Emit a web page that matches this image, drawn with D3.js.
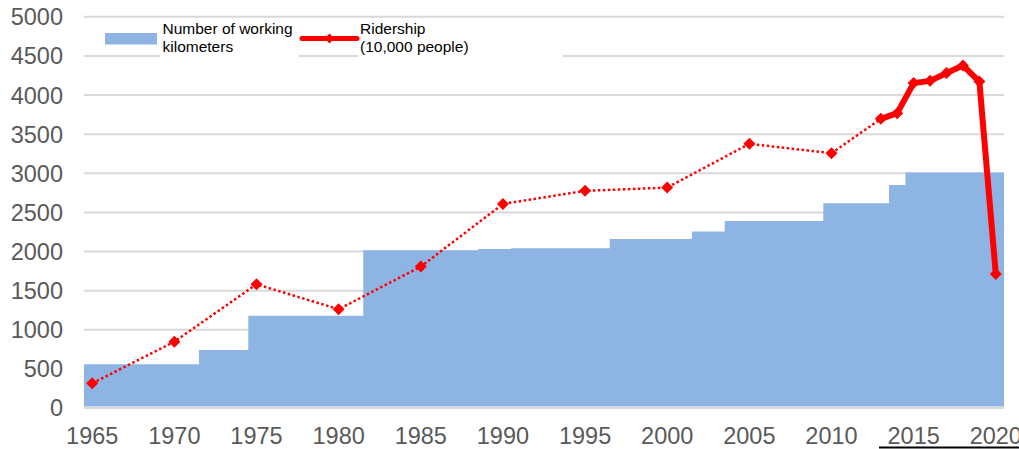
<!DOCTYPE html>
<html>
<head>
<meta charset="utf-8">
<script src="https://cdn.jsdelivr.net/npm/d3@7"></script>
<style>
  body { margin: 0; background: #fff; }
  text { font-family: "Liberation Sans", Arial, sans-serif; }
</style>
</head>
<body>
<div id="chart"></div>
<script>
// chart data
var years = [1965, 1966, 1967, 1968, 1969, 1970, 1971, 1972, 1973, 1974,
  1975, 1976, 1977, 1978, 1979, 1980, 1981, 1982, 1983, 1984,
  1985, 1986, 1987, 1988, 1989, 1990, 1991, 1992, 1993, 1994,
  1995, 1996, 1997, 1998, 1999, 2000, 2001, 2002, 2003, 2004,
  2005, 2006, 2007, 2008, 2009, 2010, 2011, 2012, 2013, 2014,
  2015, 2016, 2017, 2018, 2019, 2020];

// number of working kilometers, one per year
var kmValues = [552, 552, 552, 552, 552, 552, 552, 735, 735, 735,
  1174, 1174, 1174, 1174, 1174, 1174, 1174, 2010, 2010, 2010,
  2010, 2010, 2010, 2010, 2025, 2025, 2035, 2035, 2035, 2035,
  2035, 2035, 2155, 2155, 2155, 2155, 2155, 2248, 2248, 2385,
  2385, 2385, 2385, 2385, 2385, 2612, 2612, 2612, 2612, 2845,
  3002, 3002, 3002, 3002, 3002, 3002];

// ridership (10,000 people)
var riderYears = [1965, 1970, 1975, 1980, 1985, 1990, 1995, 2000, 2005, 2010,
  2013, 2014, 2015, 2016, 2017, 2018, 2019, 2020];
var riderValues = [309, 841, 1575, 1256, 1801, 2602, 2769, 2811, 3370, 3250,
  3689, 3762, 4146, 4175, 4274, 4371, 4166, 1707];
var solidFrom = 2013; // yearly data from here, drawn as a thick line

var yTicks = [0, 500, 1000, 1500, 2000, 2500, 3000, 3500, 4000, 4500, 5000];
var xTicks = [1965, 1970, 1975, 1980, 1985, 1990, 1995, 2000, 2005, 2010, 2015, 2020];

var seriesNames = ["Number of working\nkilometers", "Ridership\n(10,000 people)"];

var svgWidth = 1019;
var svgHeight = 449;

var margin = { top: 16.3, right: 15, bottom: 41.5, left: 84 };
var width = svgWidth - margin.left - margin.right;
var height = svgHeight - margin.top - margin.bottom;

var areaColor = "#8eb4e3";
var red = "#ff0000";
var gridColor = "#d9d9d9";
var labelColor = "#595959";

var svg = d3.select("#chart")
  .append("svg")
  .attr("width", svgWidth)
  .attr("height", svgHeight);

var chartGroup = svg.append("g")
  .attr("transform", `translate(${margin.left}, ${margin.top})`);

// scales
var xScale = d3.scaleBand()
  .domain(years)
  .range([0, width])
  .padding(0);

var yScale = d3.scaleLinear()
  .domain([0, 5000])
  .range([height, 0]);

var xMid = d => xScale(d) + xScale.bandwidth() / 2;

// y axis with gridlines
var leftAxis = d3.axisLeft(yScale)
  .tickValues(yTicks)
  .tickFormat(d3.format("d"))
  .tickSize(-width)
  .tickPadding(21);

var yAxisG = chartGroup.append("g").call(leftAxis);
yAxisG.select(".domain").remove();
yAxisG.selectAll(".tick line")
  .attr("stroke", gridColor)
  .attr("stroke-width", 2);
yAxisG.selectAll(".tick text")
  .attr("fill", labelColor)
  .attr("font-size", "23.5px")
  .attr("dy", "0.36em");

// step area for kilometers
var kmPoints = years.map((yr, i) => ({ x: xScale(yr), v: kmValues[i] }));
kmPoints.push({ x: xScale(years[years.length - 1]) + xScale.bandwidth(), v: kmValues[kmValues.length - 1] });

var area = d3.area()
  .curve(d3.curveStepAfter)
  .x(d => d.x)
  .y0(yScale(0) - 1)
  .y1(d => yScale(d.v));

chartGroup.append("path")
  .datum(kmPoints)
  .attr("d", area)
  .attr("fill", areaColor);

// ridership line
var riders = riderYears.map((yr, i) => ({ year: yr, v: riderValues[i] }));
var dotted = riders.filter(d => d.year <= solidFrom);
var solid = riders.filter(d => d.year >= solidFrom);

var line = d3.line()
  .x(d => xMid(d.year))
  .y(d => yScale(d.v));

chartGroup.append("path")
  .datum(dotted)
  .attr("d", line)
  .attr("fill", "none")
  .attr("stroke", red)
  .attr("stroke-width", 2.5)
  .attr("stroke-dasharray", "2.5,2.5");

chartGroup.append("path")
  .datum(solid)
  .attr("d", line)
  .attr("fill", "none")
  .attr("stroke", red)
  .attr("stroke-width", 6)
  .attr("stroke-linejoin", "round");

var diamond = d3.symbol().type(d3.symbolSquare).size(72);

chartGroup.selectAll(".marker")
  .data(riders)
  .enter()
  .append("path")
  .attr("class", "marker")
  .attr("d", diamond)
  .attr("transform", d => `translate(${xMid(d.year)}, ${yScale(d.v)}) rotate(45)`)
  .attr("fill", red);

// x axis
var bottomAxis = d3.axisBottom(xScale)
  .tickValues(xTicks)
  .tickSize(0)
  .tickPadding(19.5);

var xAxisG = chartGroup.append("g")
  .attr("transform", `translate(0, ${height})`)
  .call(bottomAxis);
xAxisG.select(".domain").remove();
xAxisG.selectAll(".tick text")
  .attr("fill", labelColor)
  .attr("font-size", "23.5px");

// underline under the last two year labels
svg.append("line")
  .attr("x1", 879)
  .attr("x2", svgWidth)
  .attr("y1", 447.5)
  .attr("y2", 447.5)
  .attr("stroke", "#000")
  .attr("stroke-width", 2);

// legend
var legend = svg.append("g");

legend.append("rect")
  .attr("x", 160).attr("y", 18)
  .attr("width", 139).attr("height", 40)
  .attr("fill", "#fff");

legend.append("rect")
  .attr("x", 358).attr("y", 18)
  .attr("width", 205).attr("height", 40)
  .attr("fill", "#fff");

legend.append("rect")
  .attr("x", 105).attr("y", 33)
  .attr("width", 52).attr("height", 11.5)
  .attr("fill", areaColor);

legend.append("line")
  .attr("x1", 302).attr("x2", 357)
  .attr("y1", 38.5).attr("y2", 38.5)
  .attr("stroke", red)
  .attr("stroke-width", 5)
  .attr("stroke-linecap", "round");

legend.append("path")
  .attr("d", d3.symbol().type(d3.symbolSquare).size(50))
  .attr("transform", "translate(329.5, 38.5) rotate(45)")
  .attr("fill", red);

[162.5, 360].forEach(function(x, i) {
  var t = legend.append("text")
    .attr("x", x)
    .attr("y", 34)
    .attr("font-size", "15.5px")
    .attr("fill", "#000");
  seriesNames[i].split("\n").forEach(function(part, j) {
    t.append("tspan")
      .attr("x", x)
      .attr("dy", j === 0 ? 0 : 17.7)
      .text(part);
  });
});
</script>
</body>
</html>
